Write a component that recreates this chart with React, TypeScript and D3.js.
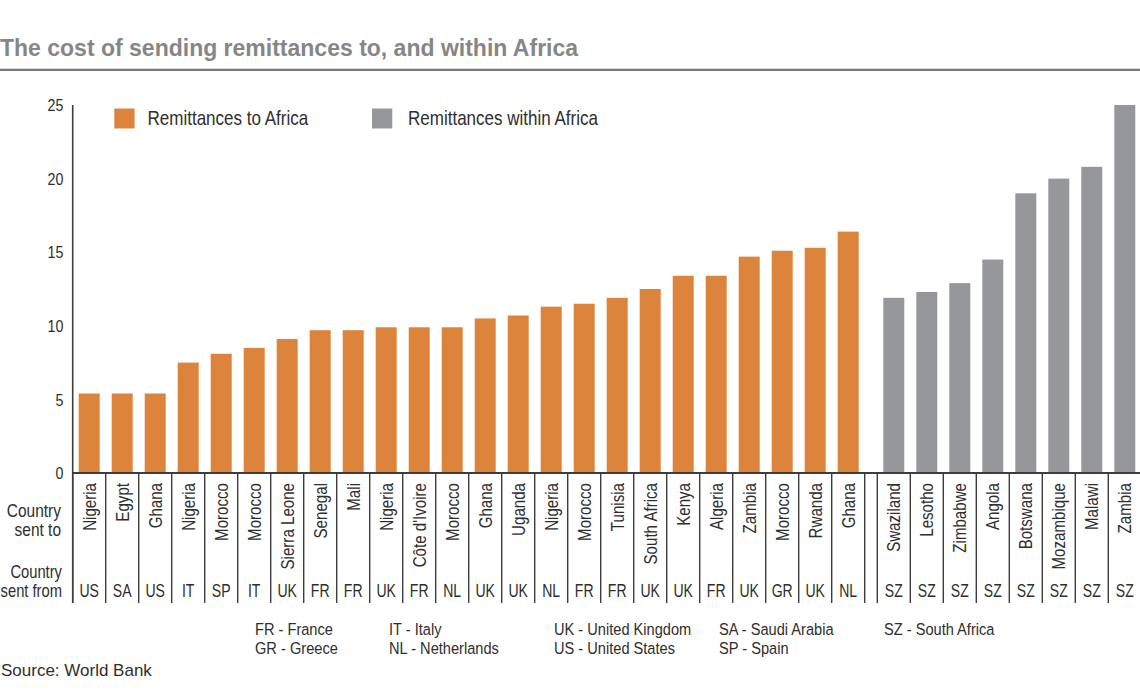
import React from "react";
import * as d3 from "d3";

// ---- Data ----
const toAfricaCountries = ["Nigeria","Egypt","Ghana","Nigeria","Morocco","Morocco","Sierra Leone","Senegal","Mali","Nigeria","Côte d'Ivoire","Morocco","Ghana","Uganda","Nigeria","Morocco","Tunisia","South Africa","Kenya","Algeria","Zambia","Morocco","Rwanda","Ghana"];
const toAfricaFrom = ["US","SA","US","IT","SP","IT","UK","FR","FR","UK","FR","NL","UK","UK","NL","FR","FR","UK","UK","FR","UK","GR","UK","NL"];
const toAfricaCost = [5.4,5.4,5.4,7.5,8.1,8.5,9.1,9.7,9.7,9.9,9.9,9.9,10.5,10.7,11.3,11.5,11.9,12.5,13.4,13.4,14.7,15.1,15.3,16.4];

const withinCountries = ["Swaziland","Lesotho","Zimbabwe","Angola","Botswana","Mozambique","Malawi","Zambia"];
const withinFrom = ["SZ","SZ","SZ","SZ","SZ","SZ","SZ","SZ"];
const withinCost = [11.9,12.3,12.9,14.5,19.0,20.0,20.8,25.0];

const yTicks = [0,5,10,15,20,25];
const seriesNames = ["Remittances to Africa","Remittances within Africa"];
const codeKey = [
  ["FR - France","GR - Greece"],
  ["IT - Italy","NL - Netherlands"],
  ["UK - United Kingdom","US - United States"],
  ["SA - Saudi Arabia","SP - Spain"],
  ["SZ - South Africa"],
];
const title = "The cost of sending remittances to, and within Africa";
const source = "Source: World Bank";

// ---- Style ----
const ORANGE = "#DD843C";
const GRAY = "#96979B";
const AXIS = "#3d3d3d";
const TEXT = "#2e2e2e";
const FONT = "'Liberation Sans', Arial, Helvetica, sans-serif";

const W = 1140, H = 694;
const y0 = 473, yTop = 105;
const cellBottom = 603;
const leftX = 72.7;
const step = 33;
const orangeEnd = leftX + step * toAfricaCountries.length;
const grayStart = orangeEnd + 12.6;
const grayEnd = grayStart + step * withinCountries.length;

type CTProps = { x: number; y: number; s?: number; rot?: number; size: number; anchor?: string; fill?: string; weight?: string | number; children: React.ReactNode; dy?: string };
const CText = ({ x, y, s = 1, rot = 0, size, anchor = "start", fill = TEXT, weight = "normal", children, dy }: CTProps) => (
  <text
    transform={`translate(${x},${y}) rotate(${rot}) scale(${s},1)`}
    fontSize={size}
    fontFamily={FONT}
    textAnchor={anchor}
    fill={fill}
    fontWeight={weight}
    dy={dy}
  >
    {children}
  </text>
);

export default function App() {
  const y = d3.scaleLinear().domain([0, 25]).range([y0, yTop]);
  const xTo = d3.scaleBand<number>()
    .domain(d3.range(toAfricaCountries.length))
    .range([leftX, orangeEnd])
    .paddingInner(12 / 33)
    .paddingOuter(6 / 33);
  const xWithin = d3.scaleBand<number>()
    .domain(d3.range(withinCountries.length))
    .range([grayStart, grayEnd])
    .paddingInner(12 / 33)
    .paddingOuter(6 / 33);

  const sepLines: number[] = [];
  for (let i = 0; i <= toAfricaCountries.length; i++) sepLines.push(leftX + i * xTo.step());
  for (let i = 0; i <= withinCountries.length; i++) sepLines.push(grayStart + i * xWithin.step());

  const codeX = [255, 389, 554, 719, 884];

  return (
    <svg width={W} height={H} style={{ position: "absolute", left: 0, top: 0, display: "block", background: "#fff" }}>
      {/* Title */}
      <CText x={0} y={56} size={23} weight="bold" fill="#868686">{title}</CText>
      <line x1={0} x2={W} y1={68.5} y2={68.5} stroke="#d8d8d8" strokeWidth={1} />
      <line x1={0} x2={W} y1={70} y2={70} stroke="#7a7a7a" strokeWidth={2} />

      {/* Legend */}
      <rect x={114.3} y={108.5} width={20.3} height={20} fill={ORANGE} />
      <CText x={147.5} y={125} size={20.5} s={0.83}>{seriesNames[0]}</CText>
      <rect x={372} y={108.5} width={20.3} height={20} fill={GRAY} />
      <CText x={408} y={125} size={20.5} s={0.83}>{seriesNames[1]}</CText>

      {/* Y ticks */}
      {yTicks.map((t) => (
        <CText key={t} x={63.5} y={y(t)} size={17} s={0.84} anchor="end" dy="0.36em">{t}</CText>
      ))}

      {/* Bars */}
      {toAfricaCost.map((v, i) => (
        <rect key={"o" + i} x={xTo(i)} y={y(v)} width={xTo.bandwidth()} height={y0 - y(v)} fill={ORANGE} />
      ))}
      {withinCost.map((v, i) => (
        <rect key={"g" + i} x={xWithin(i)} y={y(v)} width={xWithin.bandwidth()} height={y0 - y(v)} fill={GRAY} />
      ))}

      {/* Axes */}
      <line x1={leftX} x2={leftX} y1={yTop} y2={cellBottom} stroke={AXIS} strokeWidth={1.6} />
      <line x1={leftX} x2={W + 5} y1={y0} y2={y0} stroke={AXIS} strokeWidth={2} />
      {sepLines.map((sx, i) => (
        <line key={"s" + i} x1={sx} x2={sx} y1={y0} y2={cellBottom} stroke={AXIS} strokeWidth={1.4} />
      ))}

      {/* Category labels */}
      {toAfricaCountries.map((c, i) => (
        <CText key={"tc" + i} x={(xTo(i) as number) + xTo.bandwidth() / 2} y={483} rot={-90} size={18} s={0.84} anchor="end" dy="0.35em">{c}</CText>
      ))}
      {withinCountries.map((c, i) => (
        <CText key={"wc" + i} x={(xWithin(i) as number) + xWithin.bandwidth() / 2} y={483} rot={-90} size={18} s={0.84} anchor="end" dy="0.35em">{c}</CText>
      ))}
      {toAfricaFrom.map((c, i) => (
        <CText key={"tf" + i} x={(xTo(i) as number) + xTo.bandwidth() / 2} y={597} size={18} s={0.78} anchor="middle">{c}</CText>
      ))}
      {withinFrom.map((c, i) => (
        <CText key={"wf" + i} x={(xWithin(i) as number) + xWithin.bandwidth() / 2} y={597} size={18} s={0.78} anchor="middle">{c}</CText>
      ))}

      {/* Row labels */}
      <CText x={61} y={516.5} size={18} s={0.86} anchor="end">Country</CText>
      <CText x={61} y={536} size={18} s={0.86} anchor="end">sent to</CText>
      <CText x={62} y={577.5} size={18} s={0.82} anchor="end">Country</CText>
      <CText x={62} y={597} size={18} s={0.82} anchor="end">sent from</CText>

      {/* Code key */}
      {codeKey.map((col, ci) =>
        col.map((line, li) => (
          <CText key={"k" + ci + li} x={codeX[ci]} y={635 + li * 19} size={17} s={0.86}>{line}</CText>
        ))
      )}

      {/* Source */}
      <CText x={1} y={676} size={17}>{source}</CText>
    </svg>
  );
}
